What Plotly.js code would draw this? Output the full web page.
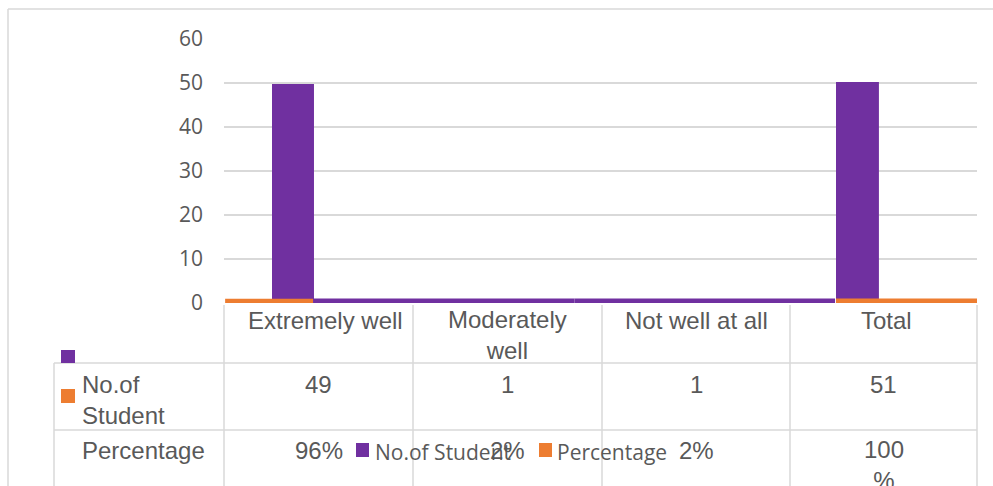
<!DOCTYPE html>
<html>
<head>
<meta charset="utf-8">
<script src="https://cdn.plot.ly/plotly-3.0.1.min.js"></script>
<style>html,body{margin:0;padding:0;background:#fff;}#chart{width:993px;height:486px;}</style>
</head>
<body>
<div id="chart"></div>
<script>
// ---- data ----
const categories = ["Extremely well", "Moderately well", "Not well at all", "Total"];
const categoryLabels = ["Extremely well", "Moderately<br>well", "Not well at all", "Total"];
const studentBars = [49.8, 1, 1, 50.2];          // bar heights as drawn in the picture
const percentageBars = [0.96, 0.02, 0.02, 1.0];   // percentage as fraction
const studentText = ["49", "1", "1", "51"];
const percentageText = ["96%", "2%", "2%", "100<br>%"];
const seriesNames = ["No.of Student", "Percentage"];
const yTicks = [0, 10, 20, 30, 40, 50, 60];

// ---- geometry helpers (page pixels -> paper) ----
const W = 993, H = 486;
const px = x => x / W;
const py = y => 1 - y / H;
const GRID = "#d9d9d9", TXT = "#595959";
const PURPLE = "#7030A0", ORANGE = "#ED7D31";
const tableFont = {family: "Liberation Sans, Arial, sans-serif", size: 24, color: TXT};
const legFont = {family: "Open Sans, Noto Sans, sans-serif", size: 21, color: TXT};

const traces = [
  {type: "bar", name: seriesNames[0], x: categories, y: studentBars,
   marker: {color: PURPLE, line: {width: 0}},
   width: [0.223, 1.384, 1.384, 0.228], offset: [-0.245, -1.022, -0.638, -0.249],
   hoverinfo: "skip"},
  {type: "bar", name: seriesNames[1], x: categories, y: percentageBars,
   marker: {color: ORANGE, line: {width: 0}},
   width: [0.467, 0.0005, 0.0005, 0.77], offset: [-0.494, 0, 0, -0.249],
   hoverinfo: "skip"}
];

const colCenters = [318.5, 507.5, 696, 883.5];
const headerCenters = [325.5, 507.5, 696.5, 886.5];
const annotations = [];
categoryLabels.forEach((t, i) => annotations.push({
  xref: "paper", yref: "paper", x: px(headerCenters[i]), y: py(t.includes("<br>") ? 335 : 320),
  text: t, showarrow: false, xanchor: "center", yanchor: "middle", font: tableFont, align: "center"}));
studentText.forEach((t, i) => annotations.push({
  xref: "paper", yref: "paper", x: px(colCenters[i]), y: py(384.5),
  text: t, showarrow: false, xanchor: "center", yanchor: "middle", font: tableFont}));
percentageText.forEach((t, i) => annotations.push({
  xref: "paper", yref: "paper", x: px(colCenters[i]), y: py(t.includes("<br>") ? 465 : 450),
  text: t, showarrow: false, xanchor: "center", yanchor: "middle", font: tableFont, align: "center"}));
annotations.push({xref: "paper", yref: "paper", x: px(80), y: py(399.5), text: "No.of<br>Student",
  showarrow: false, xanchor: "left", yanchor: "middle", font: tableFont, align: "left"});
annotations.push({xref: "paper", yref: "paper", x: px(80), y: py(450), text: seriesNames[1],
  showarrow: false, xanchor: "left", yanchor: "middle", font: tableFont, align: "left"});
// legend overlay
annotations.push({xref: "paper", yref: "paper", x: px(373), y: py(452), text: seriesNames[0],
  showarrow: false, xanchor: "left", yanchor: "middle", font: legFont});
annotations.push({xref: "paper", yref: "paper", x: px(555), y: py(452), text: seriesNames[1],
  showarrow: false, xanchor: "left", yanchor: "middle", font: legFont});

const line = (x0, y0, x1, y1) => ({type: "line", xref: "paper", yref: "paper",
  x0: px(x0), y0: py(y0), x1: px(x1), y1: py(y1), line: {color: GRID, width: 1.5}, layer: "below"});
const box = (x0, y0, x1, y1, c) => ({type: "rect", xref: "paper", yref: "paper",
  x0: px(x0), y0: py(y0), x1: px(x1), y1: py(y1), fillcolor: c, line: {width: 0}, layer: "above"});

const shapes = [
  line(8, 9, 993, 9), line(8, 9, 8, 486),
  line(224, 305, 224, 486), line(413, 305, 413, 486), line(602, 305, 602, 486),
  line(790, 305, 790, 486), line(977, 305, 977, 486), line(54, 363, 54, 486),
  line(54, 363, 977, 363), line(54, 430, 977, 430),
  box(61, 350, 75, 363, PURPLE), box(61, 389, 75, 403, ORANGE),
  box(356, 443, 369, 457, PURPLE), box(539, 443, 552, 457, ORANGE)
];

const layout = {
  width: W, height: H, margin: {l: 0, r: 0, t: 0, b: 0},
  paper_bgcolor: "#fff", plot_bgcolor: "#fff",
  barmode: "overlay", showlegend: false,
  xaxis: {domain: [px(224), px(977)], type: "category", range: [-0.5, 3.5],
    showticklabels: false, showgrid: false, zeroline: false, showline: false, ticks: "", fixedrange: true},
  yaxis: {domain: [py(303), py(39)], range: [0, 60], tickvals: yTicks, ticktext: yTicks.map(String),
    showgrid: true, gridcolor: GRID, gridwidth: 1.3, zeroline: false, showline: false, ticks: "",
    ticklabelstandoff: 20, tickfont: {family: "Open Sans, Noto Sans, sans-serif", size: 21, color: TXT}, fixedrange: true},
  annotations: annotations, shapes: shapes
};

Plotly.newPlot("chart", traces, layout, {displayModeBar: false, staticPlot: true});
</script>
</body>
</html>
